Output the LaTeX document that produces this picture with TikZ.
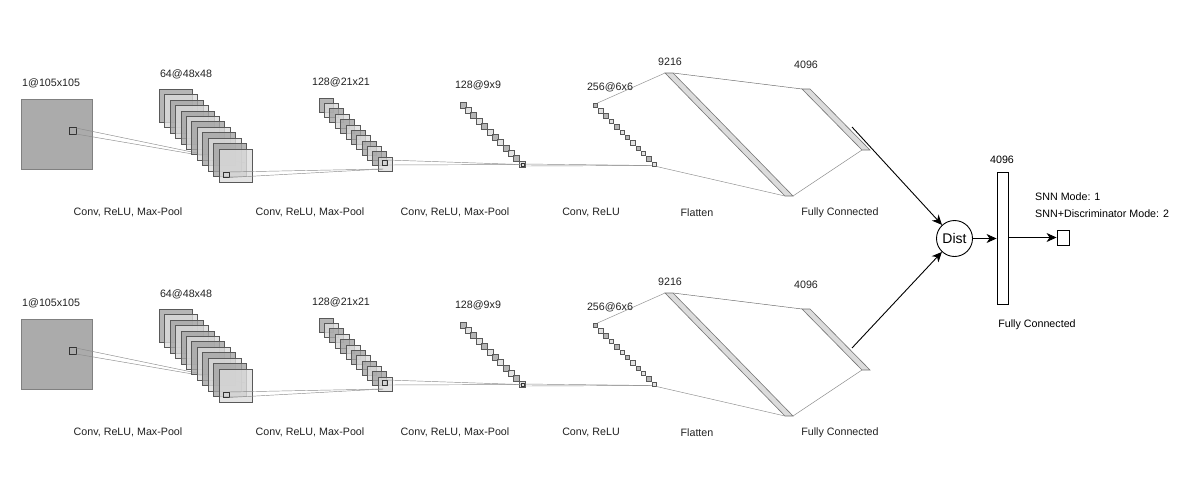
\documentclass[tikz,border=0pt]{standalone}
\usepackage{fontspec}
\setmainfont{Liberation Sans}
\usetikzlibrary{arrows.meta}
\definecolor{dg}{HTML}{A4A4A4}
\definecolor{lg}{HTML}{DCDCDC}
\definecolor{ing}{HTML}{ABABAB}
\definecolor{txt}{HTML}{222222}
\newcommand{\fmstack}[4]{%
  \foreach \i in {0,...,11}{%
    \ifodd\i\def\fc{lg}\else\def\fc{dg}\fi
    \filldraw[fmap, fill=\fc] ({#1+#4*\i},{#2+#4*\i}) rectangle ++(#3,#3);
  }}
\begin{document}
\begin{tikzpicture}[x=1pt,y=-1pt,
  lbl/.style={font=\fontsize{10.7}{12}\selectfont, text=txt, inner sep=0pt},
  fmap/.style={draw=black!65, line width=0.6pt, fill opacity=0.8},
  insq/.style={draw=black!50, fill=ing, line width=0.6pt},
  kern/.style={draw=black!80, line width=0.6pt},
  thin/.style={draw=black!45, line width=0.45pt},
  bar/.style={draw=black!55, fill=lg, line width=0.6pt},
  arr/.style={draw=black, line width=0.9pt, -{Stealth[length=10pt,width=9pt,inset=3pt]}}
]
\useasboundingbox[fill=white] (0,0) rectangle (1191,498);

\foreach \b/\dy in {t/0,b/220}{%
\begin{scope}[shift={(0,\dy)}]
  % input image
  \filldraw[insq] (21,99) rectangle (92,169);
  \draw[kern] (69,127) rectangle (76,134);
  \coordinate (k0a\b) at (76,128);
  \coordinate (k0b\b) at (76,134);
  \coordinate (m1\b) at (245,163);
  \draw[thin] (k0a\b) -- (m1\b);
  \draw[thin] (k0b\b) -- (m1\b);
  % 64@48x48
  \fmstack{159}{89}{33}{5.45}
  \draw[kern] (223,172) rectangle (229,177.5);
  \coordinate (k1a\b) at (229,172);
  \coordinate (k1b\b) at (229,177.5);
  \coordinate (m2\b) at (383,169);
  % 128@21x21
  \fmstack{319}{98}{14}{5.36}
  \draw[thin] (k1a\b) -- (m2\b);
  \draw[thin] (k1b\b) -- (m2\b);
  \draw[kern] (382,160) rectangle (387,165);
  \coordinate (k2a\b) at (387,160);
  \coordinate (k2b\b) at (387,165);
  \coordinate (m3\b) at (521,164.5);
  % 128@9x9
  \fmstack{460}{102}{6}{5.36}
  \draw[thin] (k2a\b) -- (m3\b);
  \draw[thin] (k2b\b) -- (m3\b);
  \draw[kern, line width=0.4pt] (521,163) rectangle (524,166);
  \coordinate (k3a\b) at (524,164);
  \coordinate (k3b\b) at (524,166);
  \coordinate (m4\b) at (653,165.5);
  \draw[thin] (k3a\b) -- (m4\b);
  \draw[thin] (k3b\b) -- (m4\b);
  % 256@6x6
  \fmstack{593}{103}{4.5}{5.36}
  \coordinate (f0\b) at (597.5,103);
  \coordinate (f1\b) at (656.5,166.5);
  % 9216
  \filldraw[bar] (665,73) coordinate (ta\b) -- (673,73) coordinate (tb\b)
     -- (793,196) coordinate (tc\b) -- (785,196) coordinate (td\b) -- cycle;
  % 4096
  \filldraw[bar] (802,89) coordinate (ua\b) -- (810,89) coordinate (ub\b)
     -- (870,150) coordinate (uc\b) -- (862,150) coordinate (ud\b) -- cycle;
  \draw[thin] (f0\b) -- (ta\b);
  \draw[thin] (f1\b) -- (td\b);
  \draw[thin, draw=black!60] (tb\b) -- (ua\b);
  \draw[thin] (tc\b) -- (ud\b);
  % labels
  \node[lbl, anchor=west] (l0\b) at (22,83) {1@105x105};
  \node[lbl] (l1\b) at (186,74) {64@48x48};
  \node[lbl] (l2\b) at (341,82) {128@21x21};
  \node[lbl] (l3\b) at (478,85) {128@9x9};
  \node[lbl] (l4\b) at (610,87) {256@6x6};
  \node[lbl] (l5\b) at (670,62) {9216};
  \node[lbl] (l6\b) at (806,65) {4096};
  \node[lbl] (o1\b) at (128,212) {Conv, ReLU, Max-Pool};
  \node[lbl] (o2\b) at (310,212) {Conv, ReLU, Max-Pool};
  \node[lbl] (o3\b) at (455,212) {Conv, ReLU, Max-Pool};
  \node[lbl] (o4\b) at (591,212) {Conv, ReLU};
  \node[lbl] (o5\b) at (697,213) {Flatten};
  \node[lbl] (o6\b) at (840,213) {Fully Connected};
\end{scope}}

% head
\coordinate (st) at (852,127);
\coordinate (sb) at (852,348);
\node[circle, draw=black, line width=0.9pt, minimum size=36pt, inner sep=0pt,
      font=\fontsize{14}{16}\selectfont] (dist) at (954.5,238.5) {Dist};
\node[draw=black, line width=0.9pt, fill=white, minimum width=11pt, minimum height=132pt,
      inner sep=0pt] (fc) at (1002.5,238) {};
\node[draw=black, line width=0.9pt, fill=white, minimum width=12pt, minimum height=15pt,
      inner sep=0pt] (out) at (1063,237.5) {};
\draw[arr] (st) -- (dist);
\draw[arr] (sb) -- (dist);
\draw[arr] (dist.east) -- (dist.east -| fc.west);
\draw[arr] (fc.east |- out.west) -- (out.west);
\node[lbl, text=black] (n4096) at (1002,160) {4096};
\node[lbl, text=black, anchor=west] (m1) at (1035,197) {SNN Mode: 1};
\node[lbl, text=black, anchor=west] (m2) at (1035,214) {SNN+Discriminator Mode: 2};
\node[lbl, text=black] (fcl) at (1037,325) {Fully Connected};
\end{tikzpicture}
\end{document}
